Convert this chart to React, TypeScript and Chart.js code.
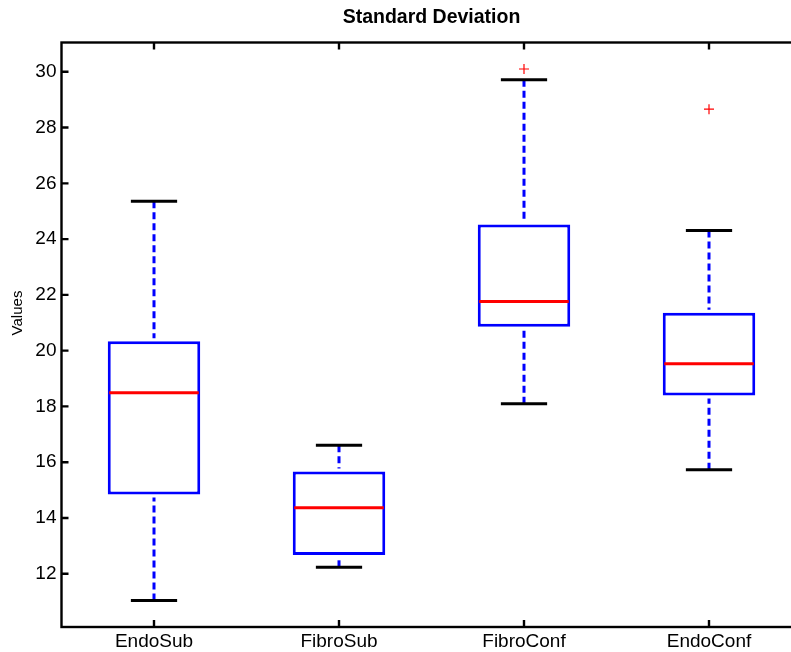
import { useEffect, useRef } from 'react';
import { Chart, registerables } from 'chart.js';

Chart.register(...registerables);

// ---- data ----
const GROUPS = ['EndoSub', 'FibroSub', 'FibroConf', 'EndoConf'];
const WHISKER_LOW = [11.04, 12.23, 18.1, 15.73];
const Q1 = [14.84, 12.67, 20.86, 18.39];
const MEDIAN = [18.49, 14.37, 21.76, 19.53];
const Q3 = [20.34, 15.67, 24.52, 21.36];
const WHISKER_HIGH = [25.36, 16.61, 29.71, 24.31];
const OUTLIER_GROUPS = ['FibroConf', 'EndoConf'];
const OUTLIER_VALUES = [30.1, 28.66];
const Y_TICKS = [12, 14, 16, 18, 20, 22, 24, 26, 28, 30];
const Y_MIN = 10.09;
const Y_MAX = 31.05;
const TITLE = 'Standard Deviation';
const Y_LABEL = 'Values';

const FONT = '"Liberation Sans", Arial, Helvetica, sans-serif';

const boxParts = {
  id: 'boxParts',
  afterDatasetsDraw(chart: any) {
    const { ctx } = chart;
    const x = chart.scales.x;
    const y = chart.scales.y;
    const meta = chart.getDatasetMeta(0);
    ctx.save();
    GROUPS.forEach((_g, i) => {
      const cx = x.getPixelForValue(i);
      const half = meta.data[i].width / 2;
      const capHalf = half / 2;
      // dashed whiskers
      ctx.setLineDash([7, 4]);
      ctx.strokeStyle = '#0000ff';
      ctx.lineWidth = 3;
      ctx.beginPath();
      ctx.moveTo(cx, y.getPixelForValue(WHISKER_HIGH[i]));
      ctx.lineTo(cx, y.getPixelForValue(Q3[i]) - 3);
      ctx.stroke();
      ctx.beginPath();
      ctx.moveTo(cx, y.getPixelForValue(WHISKER_LOW[i]));
      ctx.lineTo(cx, y.getPixelForValue(Q1[i]) + 3);
      ctx.stroke();
      ctx.setLineDash([]);
      // caps
      ctx.strokeStyle = '#000000';
      ctx.lineWidth = 3;
      [WHISKER_LOW[i], WHISKER_HIGH[i]].forEach((v) => {
        const py = y.getPixelForValue(v);
        ctx.beginPath();
        ctx.moveTo(cx - capHalf, py);
        ctx.lineTo(cx + capHalf, py);
        ctx.stroke();
      });
      // median
      ctx.strokeStyle = '#ff0000';
      ctx.lineWidth = 3;
      const my = y.getPixelForValue(MEDIAN[i]);
      ctx.beginPath();
      ctx.moveTo(cx - half + 1.5, my);
      ctx.lineTo(cx + half - 1.5, my);
      ctx.stroke();
    });
    ctx.restore();
  },
  afterDraw(chart: any) {
    const { ctx, chartArea } = chart;
    const { left, right, top, bottom } = chartArea;
    const x = chart.scales.x;
    const y = chart.scales.y;
    const tl = 7;
    ctx.save();
    ctx.strokeStyle = '#000000';
    ctx.lineWidth = 2.4;
    ctx.strokeRect(left, top, right - left, bottom - top);
    ctx.beginPath();
    Y_TICKS.forEach((v) => {
      const py = y.getPixelForValue(v);
      ctx.moveTo(left, py);
      ctx.lineTo(left + tl, py);
      ctx.moveTo(right, py);
      ctx.lineTo(right - tl, py);
    });
    GROUPS.forEach((_g, i) => {
      const px = x.getPixelForValue(i);
      ctx.moveTo(px, bottom);
      ctx.lineTo(px, bottom - tl);
      ctx.moveTo(px, top);
      ctx.lineTo(px, top + tl);
    });
    ctx.stroke();
    // title centred over the axes
    ctx.fillStyle = '#000000';
    ctx.textAlign = 'center';
    ctx.textBaseline = 'middle';
    ctx.font = `bold 19.5px ${FONT}`;
    ctx.fillText(TITLE, (left + right) / 2, 18);
    // y-axis label
    ctx.font = `15px ${FONT}`;
    ctx.translate(18, 313);
    ctx.rotate(-Math.PI / 2);
    ctx.fillText(Y_LABEL, 0, 0);
    ctx.restore();
  },
};

export default function App() {
  const ref = useRef<HTMLCanvasElement | null>(null);

  useEffect(() => {
    if (!ref.current) return;
    const chart = new Chart(ref.current, {
      type: 'bar',
      data: {
        labels: GROUPS,
        datasets: [
          {
            type: 'bar',
            data: GROUPS.map((_g, i) => [Q1[i], Q3[i]]) as any,
            backgroundColor: '#ffffff',
            borderColor: '#0000ff',
            borderWidth: 3,
            borderSkipped: false,
            barPercentage: 0.5,
            categoryPercentage: 1,
          } as any,
          {
            type: 'scatter',
            data: OUTLIER_GROUPS.map((g, i) => ({ x: g, y: OUTLIER_VALUES[i] })) as any,
            pointStyle: 'cross',
            pointRadius: 5,
            borderColor: '#ff0000',
            borderWidth: 1.2,
            backgroundColor: '#ff0000',
          } as any,
        ],
      },
      options: {
        animation: false,
        responsive: false,
        devicePixelRatio: 1,
        layout: { padding: { left: 0, right: 18.5, top: 42.5, bottom: 0 } },
        plugins: {
          legend: { display: false },
          tooltip: { enabled: false },
          title: { display: false },
        },
        scales: {
          x: {
            type: 'category',
            offset: true,
            grid: { display: false, drawTicks: false },
            border: { display: false },
            ticks: {
              color: '#000000',
              font: { family: FONT, size: 19 },
              padding: 3,
              maxRotation: 0,
            },
            afterFit: (s: any) => {
              s.height = 25;
            },
          },
          y: {
            type: 'linear',
            min: Y_MIN,
            max: Y_MAX,
            grid: { display: false, drawTicks: false },
            border: { display: false },
            ticks: {
              color: '#000000',
              font: { family: FONT, size: 19 },
              padding: 5,
            },
            afterBuildTicks: (s: any) => {
              s.ticks = Y_TICKS.map((v) => ({ value: v }));
            },
            afterFit: (s: any) => {
              s.width = 61.5;
            },
          },
        },
      },
      plugins: [boxParts],
    });
    return () => chart.destroy();
  }, []);

  return (
    <div
      style={{
        position: 'fixed',
        left: 0,
        top: 0,
        width: 791,
        height: 652,
        overflow: 'hidden',
        background: '#ffffff',
      }}
    >
      <canvas ref={ref} width={820} height={652} style={{ display: 'block' }} />
    </div>
  );
}
